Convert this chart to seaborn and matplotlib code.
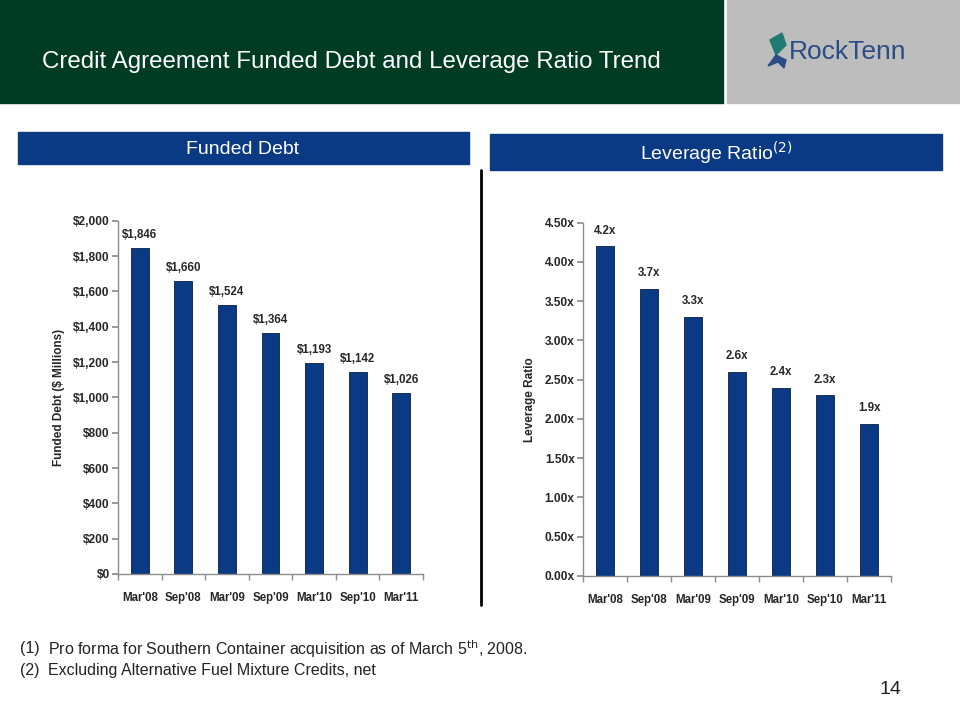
import matplotlib
matplotlib.use("Agg")
import matplotlib.pyplot as plt
import seaborn as sns
import pandas as pd
from matplotlib.patches import Rectangle, Polygon

periods = ["Mar'08", "Sep'08", "Mar'09", "Sep'09", "Mar'10", "Sep'10", "Mar'11"]
funded_debt = [1846, 1660, 1524, 1364, 1193, 1142, 1026]
leverage = [4.2, 3.66, 3.3, 2.6, 2.4, 2.3, 1.94]
leverage_labels = ["4.2x", "3.7x", "3.3x", "2.6x", "2.4x", "2.3x", "1.9x"]
debt_ticks = [0, 200, 400, 600, 800, 1000, 1200, 1400, 1600, 1800, 2000]
lev_ticks = [0, 0.5, 1.0, 1.5, 2.0, 2.5, 3.0, 3.5, 4.0, 4.5]

sns.set_theme(style="white")
plt.rcParams["font.family"] = ["Liberation Sans", "DejaVu Sans"]

BAR = "#0B3A84"
GREEN = "#003B23"

fig = plt.figure(figsize=(9.6, 7.2), dpi=100)

def px(x, y, w, h):
    return [x / 960, 1 - (y + h) / 720, w / 960, h / 720]

def fx(x):
    return x / 960

def fy(y):
    return 1 - y / 720

# header
fig.patches.append(Rectangle((0, fy(103)), fx(723), 103 / 720, transform=fig.transFigure,
                             color=GREEN, zorder=0))
fig.patches.append(Rectangle((fx(727), fy(103)), fx(233), 103 / 720, transform=fig.transFigure,
                             color="#BDBDBD", zorder=0))
fig.text(fx(42), fy(62), "Credit Agreement Funded Debt and Leverage Ratio Trend",
         color="white", fontsize=17.4, va="center", ha="left")
# logo
fig.patches.append(Polygon([(fx(770), fy(40)), (fx(782), fy(33)), (fx(786), fy(45)), (fx(776), fy(55))],
                           closed=True, transform=fig.transFigure, color="#1F7A74", zorder=1))
fig.patches.append(Polygon([(fx(768), fy(66)), (fx(776), fy(55)), (fx(786), fy(60)), (fx(784), fy(68)),
                            (fx(778), fy(62))],
                           closed=True, transform=fig.transFigure, color="#2B4C86", zorder=1))
fig.text(fx(789), fy(52), "RockTenn", color="#2B4C86", fontsize=19, va="center", ha="left")

# section banners
fig.patches.append(Rectangle((fx(18), fy(164)), fx(451), 32 / 720, transform=fig.transFigure,
                             color=BAR, zorder=0))
fig.patches.append(Rectangle((fx(490), fy(170)), fx(452), 36 / 720, transform=fig.transFigure,
                             color=BAR, zorder=0))
fig.text(fx(243), fy(149), "Funded Debt", color="white", fontsize=14, va="center", ha="center")
fig.text(fx(716), fy(153), "Leverage Ratio$^{(2)}$", color="white", fontsize=14,
         va="center", ha="center")

# divider
fig.add_artist(plt.Line2D([fx(481), fx(481)], [fy(170), fy(605)],
                          transform=fig.transFigure, color="black", lw=2))

df1 = pd.DataFrame({"period": periods, "value": funded_debt})
df2 = pd.DataFrame({"period": periods, "value": leverage})

def style_axes(ax, ylabel):
    for s in ["top", "right"]:
        ax.spines[s].set_visible(False)
    for s in ["left", "bottom"]:
        ax.spines[s].set_color("#8C8C8C")
        ax.spines[s].set_linewidth(1)
    ax.set_xlabel("")
    ax.set_ylabel(ylabel, fontsize=8.5, fontweight="bold", labelpad=6)
    ax.tick_params(axis="y", which="major", length=4, color="#8C8C8C", labelsize=8.6, pad=2, left=True)
    ax.tick_params(axis="x", which="major", length=0, labelsize=8.3, pad=13)
    ax.set_xticks([i - 0.5 for i in range(len(periods) + 1)], minor=True)
    ax.tick_params(axis="x", which="minor", length=4, color="#8C8C8C", bottom=True)
    for lab in ax.get_xticklabels() + ax.get_yticklabels():
        lab.set_fontweight("bold")
    ax.set_xlim(-0.5, len(periods) - 0.5)
    ax.grid(False)

ax1 = fig.add_axes(px(118, 220.7, 305, 353.3))
sns.barplot(data=df1, x="period", y="value", color=BAR, width=0.41, ax=ax1,
            edgecolor="#0A1F40", linewidth=0.6, saturation=1)
ax1.set_ylim(0, 2000)
ax1.set_yticks(debt_ticks)
ax1.set_yticklabels([f"${v:,}" for v in debt_ticks])
style_axes(ax1, "Funded Debt ($ Millions)")
for i, v in enumerate(funded_debt):
    ax1.text(i, v + 40, f"${v:,}", ha="center", va="bottom", fontsize=8.3, fontweight="bold")

ax2 = fig.add_axes(px(583, 222.7, 308, 353.3))
sns.barplot(data=df2, x="period", y="value", color=BAR, width=0.41, ax=ax2,
            edgecolor="#0A1F40", linewidth=0.6, saturation=1)
ax2.set_ylim(0, 4.5)
ax2.set_yticks(lev_ticks)
ax2.set_yticklabels([f"{v:.2f}x" for v in lev_ticks])
style_axes(ax2, "Leverage Ratio")
for i, (v, t) in enumerate(zip(leverage, leverage_labels)):
    ax2.text(i, v + 0.12, t, ha="center", va="bottom", fontsize=8.3, fontweight="bold")

# footnotes
fig.text(fx(20), fy(649), "(1)", fontsize=11.5, va="center", color="#222222")
fig.text(fx(48), fy(649), "Pro forma for Southern Container acquisition as of March 5$^{\\mathrm{th}}$, 2008.",
         fontsize=11.5, va="center", color="#222222")
fig.text(fx(20), fy(671), "(2)", fontsize=11.5, va="center", color="#222222")
fig.text(fx(48), fy(671), "Excluding Alternative Fuel Mixture Credits, net",
         fontsize=11.5, va="center", color="#222222")
fig.text(fx(890), fy(690), "14", fontsize=14, va="center", ha="center", color="#222222")

fig.savefig("out.png", dpi=100)
